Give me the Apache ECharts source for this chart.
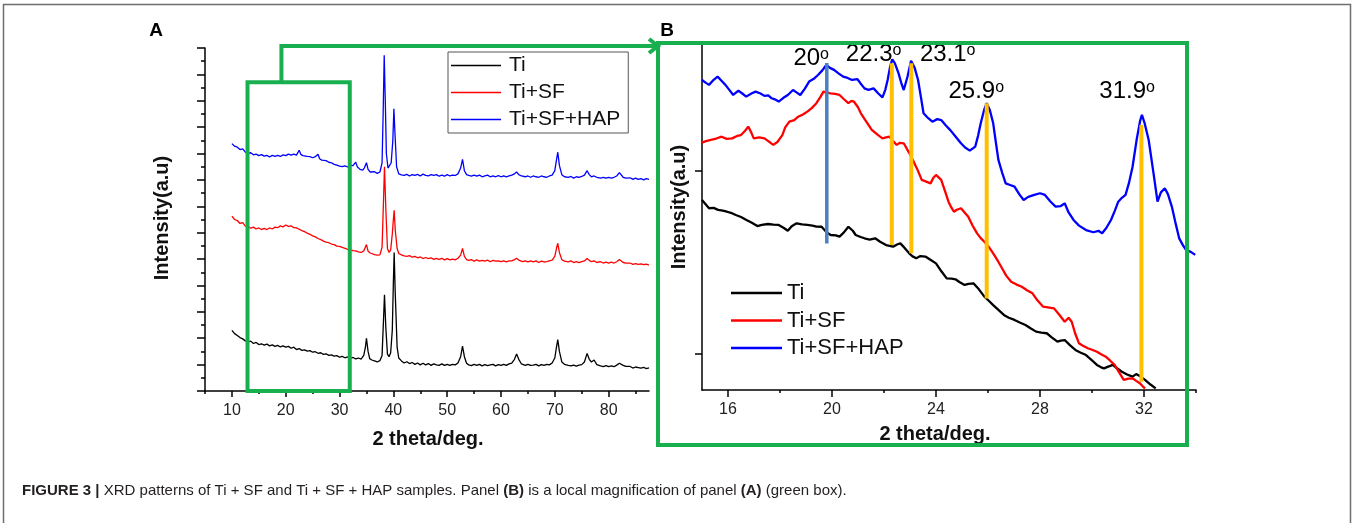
<!DOCTYPE html>
<html><head><meta charset="utf-8">
<script src="https://cdn.jsdelivr.net/npm/echarts@6/dist/echarts.min.js"></script>
<style>html,body{margin:0;padding:0;background:#fff}#c{width:1357px;height:523px}</style>
</head><body><div id="c"></div><script>
// ---------- DATA ----------
const seriesNames = ['Ti', 'Ti+SF', 'Ti+SF+HAP'];

// Panel A: 2theta (deg) vs intensity (a.u., offset-stacked)
const tiA = [[10,4.6],[10.5,4.35],[11,4.2],[11.5,4.05],[12,3.95],[12.5,3.8],[13,3.72],[13.5,3.78],[14,3.6],[14.5,3.68],[15,3.52],[15.5,3.58],[16,3.48],[16.5,3.56],[17,3.42],[17.5,3.5],[18,3.38],[18.5,3.46],[19,3.34],[19.5,3.42],[20,3.32],[20.5,3.38],[21,3.24],[21.5,3.32],[22,3.14],[22.5,3.22],[23,3.08],[23.5,3.12],[24,3.02],[24.5,3.06],[25,2.94],[25.5,2.98],[26,2.86],[26.5,2.9],[27,2.78],[27.5,2.82],[28,2.7],[28.5,2.74],[29,2.64],[29.5,2.68],[30,2.56],[30.5,2.62],[31,2.52],[31.5,2.58],[32,2.48],[32.5,2.54],[33,2.44],[33.5,2.5],[34,2.42],[34.5,2.7],[34.8,3.3],[35,4.0],[35.3,3.0],[35.6,2.45],[36,2.35],[36.5,2.28],[37,2.2],[37.5,2.3],[37.9,2.7],[38.15,5.2],[38.35,7.3],[38.6,4.8],[38.9,2.8],[39.2,2.6],[39.5,2.9],[39.8,4.6],[40.0,8.2],[40.15,10.5],[40.35,7.4],[40.7,3.3],[41.0,2.5],[41.5,2.28],[42,2.12],[42.5,2.22],[43,2.08],[43.5,2.16],[44,2.02],[44.5,2.12],[45,1.98],[45.5,2.1],[46,1.98],[46.5,2.08],[47,1.94],[47.5,2.06],[48,1.98],[48.5,1.94],[49,2.06],[49.5,1.94],[50,2.02],[50.5,1.94],[51,2.02],[51.5,1.98],[52,2.12],[52.5,2.6],[52.85,3.4],[53.2,2.6],[53.6,2.1],[54,1.98],[54.5,1.92],[55,2.02],[55.5,1.94],[56,2.02],[56.5,1.9],[57,2.0],[57.5,1.92],[58,1.98],[58.5,2.02],[59,1.9],[59.5,2.0],[60,1.94],[60.5,2.02],[61,1.94],[61.5,2.06],[62,2.12],[62.5,2.4],[62.9,2.8],[63.3,2.4],[63.8,2.05],[64.5,1.94],[65,2.02],[65.5,1.94],[66,1.96],[66.5,2.02],[67,1.9],[67.5,2.0],[68,1.94],[68.5,2.02],[69,1.98],[69.5,2.12],[70,2.5],[70.3,3.3],[70.55,3.9],[70.85,3.0],[71.3,2.2],[71.8,2.02],[72.5,1.94],[73,1.9],[73.5,1.96],[74,1.88],[74.5,1.96],[75,2.0],[75.5,2.2],[76,2.85],[76.4,2.4],[76.8,2.2],[77.3,2.35],[77.8,2.0],[78.5,1.9],[79,1.84],[79.5,1.92],[80,1.84],[80.5,1.9],[81,1.84],[81.5,1.96],[82,2.1],[82.3,2.16],[82.7,1.94],[83.2,1.86],[83.5,1.8],[84,1.86],[84.5,1.74],[85,1.82],[85.5,1.78],[86,1.74],[86.5,1.8],[87,1.7],[87.5,1.75]];

const tiSfA = [[10,13.25],[10.5,13.0],[11,12.92],[11.5,12.7],[12,12.76],[12.5,12.5],[13,12.46],[13.5,12.34],[14,12.42],[14.5,12.28],[15,12.36],[15.5,12.24],[16,12.32],[16.5,12.24],[17,12.36],[17.5,12.28],[18,12.42],[18.5,12.38],[19,12.52],[19.5,12.44],[20,12.58],[20.5,12.48],[21,12.52],[21.5,12.38],[22,12.36],[22.5,12.26],[23,12.16],[23.5,12.08],[24,11.96],[24.5,11.88],[25,11.76],[25.5,11.68],[26,11.56],[26.5,11.48],[27,11.36],[27.5,11.28],[28,11.24],[28.5,11.14],[29,11.1],[29.5,10.98],[30,10.96],[30.5,10.88],[31,10.82],[31.5,10.74],[32,10.72],[32.5,10.64],[33,10.62],[33.5,10.54],[34,10.5],[34.5,10.62],[35,11.1],[35.3,10.6],[35.7,10.46],[36,10.4],[36.5,10.34],[37,10.3],[37.5,10.32],[37.9,10.9],[38.15,14.2],[38.35,17.0],[38.6,13.8],[38.9,10.8],[39.2,10.5],[39.5,10.7],[39.8,11.9],[40.0,13.0],[40.15,13.7],[40.35,12.2],[40.7,10.8],[41.0,10.42],[41.5,10.32],[42,10.24],[42.5,10.2],[43,10.26],[43.5,10.14],[44,10.2],[44.5,10.1],[45,10.16],[45.5,10.04],[46,10.12],[46.5,10.04],[47,10.1],[47.5,9.98],[48,10.06],[48.5,9.98],[49,10.06],[49.5,9.94],[50,10.04],[50.5,9.94],[51,10.0],[51.5,9.94],[52,10.06],[52.5,10.3],[52.85,10.8],[53.2,10.2],[53.6,9.96],[54,9.9],[54.5,9.96],[55,9.84],[55.5,9.94],[56,9.84],[56.5,9.9],[57,9.84],[57.5,9.92],[58,9.8],[58.5,9.9],[59,9.84],[59.5,9.86],[60,9.8],[60.5,9.86],[61,9.78],[61.5,9.86],[62,9.86],[62.5,9.96],[62.9,10.06],[63.4,9.9],[64,9.8],[64.5,9.86],[65,9.78],[65.5,9.86],[66,9.78],[66.5,9.86],[67,9.74],[67.5,9.84],[68,9.78],[68.5,9.8],[69,9.86],[69.5,9.92],[70,10.2],[70.3,10.8],[70.55,11.2],[70.85,10.5],[71.3,9.96],[71.8,9.84],[72.5,9.78],[73,9.86],[73.5,9.74],[74,9.8],[74.5,9.74],[75,9.8],[75.5,9.86],[76,10.05],[76.4,9.9],[76.8,9.8],[77.3,9.86],[77.8,9.74],[78.5,9.8],[79,9.7],[79.5,9.76],[80,9.7],[80.5,9.76],[81,9.7],[81.5,9.8],[82,9.96],[82.3,9.9],[82.7,9.74],[83.2,9.7],[83.5,9.64],[84,9.7],[84.5,9.6],[85,9.66],[85.5,9.6],[86,9.64],[86.5,9.58],[87,9.62],[87.5,9.55]];

const tiSfHapA = [[10,18.75],[10.5,18.56],[11,18.48],[11.5,18.3],[12,18.36],[12.5,18.1],[13,18.02],[13.5,18.06],[14,17.9],[14.5,17.96],[15,17.84],[15.5,17.92],[16,17.8],[16.5,17.86],[17,17.74],[17.5,17.86],[18,17.78],[18.5,17.86],[19,17.78],[19.5,17.9],[20,17.84],[20.5,17.96],[21,17.88],[21.5,17.96],[22,17.88],[22.5,18.25],[22.8,17.94],[23.2,17.84],[23.5,17.9],[24,17.78],[24.5,17.76],[25,17.68],[25.5,17.76],[26,17.95],[26.3,17.6],[26.7,17.5],[27,17.44],[27.5,17.46],[28,17.34],[28.5,17.3],[29,17.18],[29.5,17.12],[30,17.04],[30.5,17.0],[31,17.06],[31.5,16.98],[32,17.1],[32.5,17.08],[33,17.35],[33.3,17.0],[33.8,16.8],[34.3,16.74],[34.6,16.9],[35,17.3],[35.3,16.8],[35.7,16.6],[36,16.54],[36.5,16.62],[37,16.5],[37.5,16.6],[37.9,17.3],[38.1,21.0],[38.3,25.45],[38.5,22.0],[38.7,18.0],[39.0,16.9],[39.3,16.9],[39.6,17.3],[39.9,19.0],[40.1,21.4],[40.3,19.5],[40.6,17.0],[41.0,16.46],[41.5,16.38],[42,16.34],[42.5,16.42],[43,16.3],[43.5,16.4],[44,16.34],[44.5,16.42],[45,16.3],[45.5,16.44],[46,16.34],[46.5,16.3],[47,16.4],[47.5,16.34],[48,16.4],[48.5,16.28],[49,16.36],[49.5,16.28],[50,16.4],[50.5,16.3],[51,16.36],[51.5,16.34],[52,16.46],[52.5,16.9],[52.85,17.55],[53.2,16.7],[53.6,16.4],[54,16.34],[54.5,16.28],[55,16.36],[55.5,16.28],[56,16.36],[56.5,16.24],[57,16.3],[57.5,16.36],[58,16.24],[58.5,16.3],[59,16.24],[59.5,16.32],[60,16.24],[60.5,16.3],[61,16.24],[61.5,16.3],[62,16.36],[62.5,16.46],[62.9,16.6],[63.3,16.4],[63.8,16.3],[64.5,16.24],[65,16.3],[65.5,16.2],[66,16.3],[66.5,16.24],[67,16.2],[67.5,16.3],[68,16.24],[68.5,16.2],[69,16.3],[69.5,16.36],[70,16.7],[70.3,17.5],[70.55,18.1],[70.85,17.1],[71.3,16.4],[71.8,16.24],[72.5,16.2],[73,16.26],[73.5,16.14],[74,16.24],[74.5,16.2],[75,16.26],[75.5,16.36],[76,16.7],[76.4,16.4],[76.8,16.24],[77.3,16.3],[77.8,16.2],[78.5,16.14],[79,16.2],[79.5,16.14],[80,16.2],[80.5,16.14],[81,16.2],[81.5,16.3],[82,16.55],[82.3,16.45],[82.7,16.2],[83.2,16.14],[83.5,16.1],[84,16.16],[84.5,16.04],[85,16.14],[85.5,16.04],[86,16.1],[86.5,16.0],[87,16.1],[87.5,16.05]];

// Panel B: magnified 15-34 deg
const tiB = [[15.0,10.38],[15.27,9.93],[15.45,9.95],[15.62,9.84],[15.8,9.8],[15.96,9.74],[16.15,9.66],[16.3,9.56],[16.5,9.45],[16.71,9.29],[16.9,9.15],[17.13,8.96],[17.3,9.02],[17.54,9.07],[17.75,9.04],[17.95,9.02],[18.15,8.85],[18.3,8.7],[18.45,8.95],[18.64,9.11],[18.85,9.05],[19.05,9.02],[19.25,8.98],[19.4,8.93],[19.6,8.92],[19.8,8.6],[19.95,8.47],[20.15,8.45],[20.29,8.38],[20.45,8.6],[20.63,8.92],[20.8,8.7],[20.91,8.47],[21.1,8.36],[21.25,8.29],[21.45,8.22],[21.66,8.29],[21.85,8.1],[22.08,7.92],[22.35,7.83],[22.5,7.95],[22.63,8.01],[22.8,7.75],[22.97,7.47],[23.1,7.3],[23.24,7.2],[23.4,7.32],[23.59,7.29],[23.8,7.1],[24.0,6.92],[24.2,6.5],[24.41,6.1],[24.6,6.08],[24.75,6.05],[24.9,5.9],[25.1,5.74],[25.25,5.8],[25.44,5.83],[25.65,5.5],[25.86,5.1],[26.05,4.85],[26.2,4.64],[26.4,4.38],[26.61,4.1],[26.8,3.95],[27.02,3.83],[27.2,3.7],[27.44,3.55],[27.65,3.36],[27.85,3.19],[28.05,3.14],[28.26,3.1],[28.45,2.88],[28.67,2.64],[28.8,2.7],[28.95,2.73],[29.15,2.45],[29.36,2.19],[29.55,2.05],[29.77,1.91],[30.0,1.62],[30.19,1.37],[30.35,1.24],[30.46,1.18],[30.6,1.26],[30.8,1.37],[30.95,1.2],[31.15,1.0],[31.35,0.85],[31.56,0.73],[31.7,0.87],[31.85,0.75],[32.04,0.55],[32.25,0.3],[32.45,0.09]];

const tiSfB = [[15.0,13.52],[15.15,13.6],[15.34,13.67],[15.55,13.74],[15.75,13.84],[15.95,13.72],[16.16,13.75],[16.35,13.88],[16.5,13.93],[16.65,14.15],[16.78,14.39],[16.9,14.05],[16.99,13.75],[17.2,13.8],[17.4,13.75],[17.55,13.6],[17.74,13.39],[17.9,13.55],[18.09,13.93],[18.2,14.35],[18.36,14.66],[18.55,14.75],[18.7,14.93],[18.88,15.05],[19.05,15.21],[19.22,15.4],[19.4,15.67],[19.55,16.0],[19.67,16.3],[19.8,16.25],[19.95,16.21],[20.12,16.18],[20.29,16.12],[20.45,15.9],[20.63,15.67],[20.75,15.8],[20.84,15.76],[21.0,15.45],[21.11,15.12],[21.3,14.7],[21.53,14.21],[21.75,13.95],[21.94,13.75],[22.08,13.8],[22.21,13.84],[22.35,13.6],[22.49,13.39],[22.6,13.5],[22.76,13.48],[22.95,13.0],[23.11,12.57],[23.3,12.0],[23.45,11.48],[23.6,11.4],[23.79,11.29],[23.9,11.6],[24.0,11.75],[24.1,11.62],[24.2,11.48],[24.35,10.85],[24.48,10.29],[24.6,9.95],[24.69,9.74],[24.8,9.85],[24.96,9.93],[25.1,9.7],[25.24,9.47],[25.4,9.0],[25.58,8.56],[25.72,8.3],[25.86,8.1],[26.05,7.78],[26.2,7.47],[26.38,7.05],[26.54,6.65],[26.7,6.25],[26.89,5.92],[27.1,5.76],[27.3,5.64],[27.5,5.45],[27.71,5.28],[27.9,4.9],[28.12,4.55],[28.3,4.52],[28.54,4.46],[28.75,4.1],[28.95,3.73],[29.1,3.95],[29.22,3.73],[29.35,3.1],[29.5,2.55],[29.65,2.42],[29.84,2.28],[30.0,2.2],[30.19,2.09],[30.35,1.95],[30.53,1.82],[30.7,1.6],[30.87,1.37],[31.05,0.95],[31.22,0.55],[31.4,0.62],[31.56,0.64],[31.7,0.5],[31.84,0.37],[31.95,0.2],[32.04,0.09]];

const tiSfHapB = [[15.0,16.94],[15.15,16.78],[15.27,16.67],[15.45,16.95],[15.6,17.12],[15.75,16.9],[15.9,16.67],[16.05,16.4],[16.2,16.12],[16.4,16.36],[16.55,16.2],[16.7,16.03],[16.9,16.2],[17.06,16.3],[17.25,16.2],[17.4,16.07],[17.55,16.1],[17.68,15.94],[17.8,15.88],[17.95,15.76],[18.12,15.95],[18.3,16.12],[18.5,16.39],[18.65,16.25],[18.78,16.12],[18.95,16.45],[19.12,16.85],[19.3,17.0],[19.46,17.21],[19.62,17.45],[19.78,17.76],[19.92,17.6],[20.08,17.49],[20.25,17.3],[20.43,17.12],[20.6,17.05],[20.77,16.94],[20.98,16.98],[21.1,16.75],[21.25,16.48],[21.4,16.4],[21.6,16.48],[21.78,16.2],[21.94,15.99],[22.05,16.4],[22.14,16.94],[22.24,17.7],[22.32,18.07],[22.42,17.85],[22.56,17.3],[22.66,16.8],[22.76,16.39],[22.9,17.1],[23.04,17.99],[23.18,17.6],[23.31,16.94],[23.42,16.0],[23.52,15.12],[23.7,14.85],[23.86,14.66],[24.05,14.8],[24.2,14.75],[24.38,14.45],[24.55,14.2],[24.75,13.85],[24.96,13.48],[25.12,13.25],[25.3,13.08],[25.51,13.3],[25.62,13.9],[25.72,14.57],[25.85,15.3],[25.95,15.67],[26.07,15.3],[26.2,14.57],[26.3,13.55],[26.4,12.57],[26.55,11.85],[26.68,11.29],[26.85,11.2],[27.02,11.11],[27.2,10.7],[27.37,10.38],[27.55,10.55],[27.78,10.66],[28.0,10.75],[28.19,10.66],[28.4,10.3],[28.6,10.02],[28.8,10.05],[28.95,10.2],[29.1,9.7],[29.29,9.29],[29.5,8.98],[29.77,8.74],[30.05,8.62],[30.25,8.7],[30.39,8.56],[30.55,8.85],[30.73,9.29],[30.88,9.8],[31.01,10.29],[31.15,10.5],[31.29,10.66],[31.42,11.3],[31.56,12.2],[31.72,13.7],[31.85,14.7],[31.92,15.03],[32.02,14.6],[32.18,13.66],[32.35,12.0],[32.52,10.29],[32.65,10.8],[32.8,11.02],[32.92,10.7],[33.07,10.02],[33.2,9.2],[33.35,8.3],[33.5,7.9],[33.62,7.65],[33.8,7.55],[33.97,7.38]];

// Peak markers in panel B
const peakAngles  = [19.8, 22.3, 23.05, 25.95, 31.9];
const peakTops    = [17.86, 17.85, 17.85, 15.67, 14.48];
const peakBottoms = [8.0, 7.92, 7.47, 5.0, 0.45];
const peakTexts   = ['20', '22.3', '23.1', '25.9', '31.9'];
const peakLabelX  = [19.2, 21.6, 24.45, 25.55, 31.35];
const peakLabelY  = [18.1, 18.35, 18.35, 16.3, 16.3];

// Tick values
const xTicksA = [10, 20, 30, 40, 50, 60, 70, 80];
const xMinorA = [5, 15, 25, 35, 45, 55, 65, 75, 85];
const yTicksA = [0, 2, 4, 6, 8, 10, 12, 14, 16, 18, 20, 22, 24, 26];
const yMinorA = [1, 3, 5, 7, 9, 11, 13, 15, 17, 19, 21, 23, 25];
const xTicksB = [16, 20, 24, 28, 32];
const xMinorB = [18, 22, 26, 30, 34];
const yTicksB = [2, 12];
const zoomBox = [12.9, 31.9, 23.4]; // x from, x to, top in panel A units
const connectorX = 19.2;

// ---------- CHART ----------
const FONT = 'Liberation Sans, Arial, sans-serif';
const NARROW = 'Liberation Sans Narrow, Arial Narrow, Liberation Sans, sans-serif';
const colors = ['#000000', '#ff0000', '#0000ff'];
const GREEN = '#18b04f';
const chart = echarts.init(document.getElementById('c'), null, {renderer: 'canvas'});

function xAxis(grid, min, max, ticks, len, labels) {
  return {
    type: 'value', gridIndex: grid, min: min, max: max, position: 'bottom',
    axisLine: {show: labels, onZero: false, lineStyle: {color: '#000', width: 1.5}},
    splitLine: {show: false},
    axisTick: {show: true, inside: false, customValues: ticks, length: len, lineStyle: {color: '#000', width: 1.5}},
    axisLabel: labels ? {show: true, customValues: ticks, margin: 12, fontSize: 16, color: '#222', fontFamily: FONT} : {show: false}
  };
}
function yAxis(grid, min, max, ticks, len, line) {
  return {
    type: 'value', gridIndex: grid, min: min, max: max, position: 'left',
    axisLine: {show: line, onZero: false, lineStyle: {color: '#000', width: 1.5}},
    splitLine: {show: false},
    axisTick: {show: true, inside: false, customValues: ticks, length: len, lineStyle: {color: '#000', width: 1.5}},
    axisLabel: {show: false}
  };
}

const series = [];
[tiA, tiSfA, tiSfHapA].forEach((d, i) => series.push({
  name: seriesNames[i], type: 'line', xAxisIndex: 0, yAxisIndex: 0, data: d,
  symbol: 'none', showSymbol: false, color: colors[i], lineStyle: {width: 1.3, color: colors[i]}, animation: false
}));
[tiB, tiSfB, tiSfHapB].forEach((d, i) => series.push({
  name: seriesNames[i], type: 'line', xAxisIndex: 2, yAxisIndex: 2, data: d,
  symbol: 'none', showSymbol: false, color: colors[i], lineStyle: {width: 2.3, color: colors[i]}, animation: false, clip: false
}));
peakAngles.forEach((a, i) => series.push({
  name: 'peak' + i, type: 'line', xAxisIndex: 2, yAxisIndex: 2,
  data: [[a, peakBottoms[i]], [a, peakTops[i]]], symbol: 'none',
  lineStyle: {width: i === 0 ? 3.5 : 4, color: i === 0 ? '#4a80c2' : '#ffc000'}, animation: false, z: 3
}));
series.push({
  name: 'peakLabels', type: 'scatter', xAxisIndex: 2, yAxisIndex: 2, symbolSize: 1, animation: false,
  itemStyle: {opacity: 0},
  data: peakTexts.map((t, i) => ({name: t, value: [peakLabelX[i], peakLabelY[i]]})),
  label: {
    show: true, position: 'inside', color: '#000', textBorderWidth: 0, opacity: 1,
    formatter: p => '{a|' + p.name + '}{s|o}',
    rich: {
      a: {fontSize: 24, fontFamily: FONT, color: '#000', textBorderWidth: 0},
      s: {fontSize: 16, fontFamily: FONT, color: '#000', verticalAlign: 'top', textBorderWidth: 0}
    }
  }
});

const legendItems = seriesNames.map((n, i) => ({name: n, itemStyle: {color: colors[i]}}));
const option = {
  backgroundColor: '#fff',
  animation: false,
  grid: [
    {left: 205, top: 48, width: 444, height: 343},
    {left: 702, top: 45, width: 494, height: 345}
  ],
  xAxis: [
    xAxis(0, 5, 87.5, xTicksA, 6, true),
    xAxis(0, 5, 87.5, xMinorA, 3, false),
    xAxis(1, 15, 34, xTicksB, 7, true),
    xAxis(1, 15, 34, xMinorB, 3, false)
  ],
  yAxis: [
    yAxis(0, 0, 26, yTicksA, 8, true),
    yAxis(0, 0, 26, yMinorA, 4, false),
    yAxis(1, 0, 18.85, yTicksB, 7, true)
  ],
  legend: [
    {
      data: legendItems, orient: 'vertical', left: 448, top: 52, selectedMode: false,
      icon: 'rect', itemWidth: 50, itemHeight: 1.5, itemGap: 6, padding: [3, 8, 3, 3],
      borderColor: '#555', borderWidth: 1,
      textStyle: {fontSize: 21, lineHeight: 21, fontFamily: FONT, color: '#111', padding: [0, 0, 0, 3]}
    },
    {
      data: legendItems, orient: 'vertical', left: 731, top: 282, selectedMode: false,
      icon: 'rect', itemWidth: 51, itemHeight: 2.6, itemGap: 5.5, padding: 0,
      textStyle: {fontSize: 22, lineHeight: 22, fontFamily: FONT, color: '#111'}
    }
  ],
  series: series
};
chart.setOption(option);

// Decorations: titles, caption, green zoom indicator
const p1 = chart.convertToPixel({xAxisIndex: 0, yAxisIndex: 0}, [zoomBox[0], zoomBox[2]]);
const p2 = chart.convertToPixel({xAxisIndex: 0, yAxisIndex: 0}, [zoomBox[1], 0]);
const pc = chart.convertToPixel({xAxisIndex: 0, yAxisIndex: 0}, [connectorX, zoomBox[2]]);
const frameB = {x1: 658, y1: 43, x2: 1187, y2: 445};
const connY = 46;

const bold = 'bold 20px ' + FONT;
chart.setOption({
  graphic: [
    {type: 'rect', shape: {x: 3.5, y: 4.5, width: 1347, height: 530}, style: {fill: 'none', stroke: '#6e6e6e', lineWidth: 1.5}, z: 0, silent: true},
    {type: 'text', x: 156, y: 31, style: {text: 'A', font: 'bold 19px ' + FONT, fill: '#000', align: 'center', verticalAlign: 'middle'}},
    {type: 'text', x: 667, y: 31, style: {text: 'B', font: 'bold 19px ' + FONT, fill: '#000', align: 'center', verticalAlign: 'middle'}},
    {type: 'text', x: 428, y: 439, style: {text: '2 theta/deg.', font: bold, fill: '#111', align: 'center', verticalAlign: 'middle'}},
    {type: 'text', x: 162, y: 218, rotation: Math.PI / 2, style: {text: 'Intensity(a.u)', font: bold, fill: '#111', align: 'center', verticalAlign: 'middle'}},
    {type: 'text', x: 935, y: 434, style: {text: '2 theta/deg.', font: bold, fill: '#111', align: 'center', verticalAlign: 'middle'}},
    {type: 'text', x: 679, y: 207, rotation: Math.PI / 2, style: {text: 'Intensity(a.u)', font: bold, fill: '#111', align: 'center', verticalAlign: 'middle'}},
    {type: 'rect', shape: {x: p1[0], y: p1[1], width: p2[0] - p1[0], height: p2[1] - p1[1]}, style: {fill: 'none', stroke: GREEN, lineWidth: 4}, z: 50},
    {type: 'polyline', shape: {points: [[pc[0], pc[1]], [pc[0], connY], [frameB.x1 - 2, connY]]}, style: {fill: 'none', stroke: GREEN, lineWidth: 4, lineJoin: 'miter'}, z: 50},
    {type: 'polyline', shape: {points: [[frameB.x1 - 9, connY - 7], [frameB.x1, connY], [frameB.x1 - 9, connY + 7]]}, style: {fill: 'none', stroke: GREEN, lineWidth: 4}, z: 50},
    {type: 'rect', shape: {x: frameB.x1, y: frameB.y1, width: frameB.x2 - frameB.x1, height: frameB.y2 - frameB.y1}, style: {fill: 'none', stroke: GREEN, lineWidth: 4}, z: 50},
    {type: 'text', x: 22, y: 491, style: {
      text: '{b|FIGURE 3 |} XRD patterns of Ti + SF and Ti + SF + HAP samples. Panel {b|(B)} is a local magnification of panel {b|(A)} (green box).',
      fontSize: 15, fontFamily: NARROW, fill: '#231f20', align: 'left', verticalAlign: 'middle',
      rich: {b: {fontSize: 15, fontWeight: 'bold', fontFamily: NARROW, fill: '#231f20'}}
    }}
  ]
});
</script></body></html>
